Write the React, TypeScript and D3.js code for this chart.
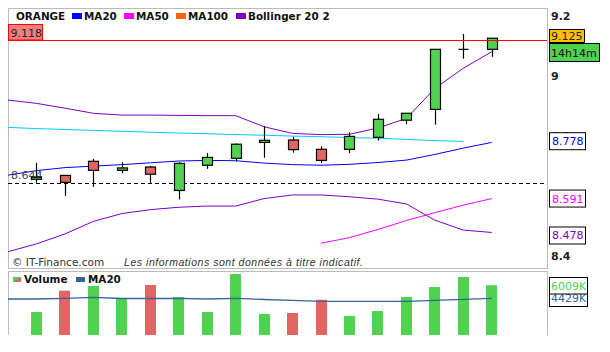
import React from "react";
import * as d3 from "d3";

// ---- data ----
const opens = [8.655, 8.668, 8.715, 8.685, 8.696, 8.618, 8.702, 8.725, 8.778, 8.786, 8.755, 8.755, 8.795, 8.852, 8.888, 9.088, 9.088];
const highs = [8.710, 8.668, 8.723, 8.712, 8.700, 8.712, 8.743, 8.775, 8.832, 8.797, 8.765, 8.812, 8.873, 8.875, 9.088, 9.139, 9.125];
const lows = [8.644, 8.600, 8.630, 8.675, 8.642, 8.588, 8.690, 8.715, 8.727, 8.744, 8.710, 8.742, 8.784, 8.839, 8.837, 9.057, 9.063];
const closes = [8.662, 8.645, 8.685, 8.693, 8.672, 8.708, 8.728, 8.772, 8.785, 8.754, 8.718, 8.798, 8.855, 8.875, 9.088, 9.088, 9.125];

// lines: first value at index -1 (left edge)
const ma20 = [8.669, 8.684, 8.694, 8.699, 8.704, 8.710, 8.716, 8.718, 8.717, 8.709, 8.704, 8.702, 8.705, 8.711, 8.719, 8.738, 8.759, 8.778];
const bollUpper = [8.919, 8.908, 8.892, 8.875, 8.869, 8.869, 8.868, 8.867, 8.867, 8.830, 8.808, 8.804, 8.805, 8.826, 8.858, 8.958, 9.025, 9.080];
const bollLower = [8.414, 8.440, 8.473, 8.515, 8.541, 8.554, 8.562, 8.566, 8.566, 8.591, 8.603, 8.603, 8.597, 8.589, 8.573, 8.519, 8.486, 8.478];
const ma100 = [8.828, 8.824, 8.821, 8.818, 8.815, 8.812, 8.809, 8.807, 8.804, 8.802, 8.799, 8.797, 8.794, 8.792, 8.788, 8.784, 8.781];
// MA50 starts at index 10
const ma50 = [8.442, 8.461, 8.488, 8.518, 8.544, 8.569, 8.591];
const ma50Start = 10;

const volumes = [2776, 5347, 5914, 4466, 6035, 4587, 2776, 7363, 2535, 2655, 4261, 2293, 2897, 4587, 5794, 7001, 6009];
const volMa20 = [4345, 4345, 4430, 4550, 4405, 4405, 4430, 4345, 4430, 4285, 4188, 4067, 4067, 4067, 4067, 4188, 4309, 4429];

const yTicks = [9.2, 9, 8.8, 8.6, 8.4];
const refLine = 9.118;
const dashedLine = 8.644;
const lastPrice = 9.125;
const timeLabel = "14h14m";

const GREEN = "#4FD24F";
const RED = "#E06666";
const PURPLE = "#7F00BF";
const BLUE = "#0000FF";
const MAGENTA = "#FF00FF";
const CYAN = "#00CCFF";
const VOLBLUE = "#336699";
const FONT = "DejaVu Sans, Verdana, sans-serif";
const LEG = 10.4;

export default function App() {
  const left = 8, right = 547;
  const x = d3.scaleLinear().domain([-1, 17.94]).range([left, right]);
  const y = d3.scaleLinear().domain([8.4, 9.2]).range([255.9, 15.7]);
  const yv = d3.scaleLinear().domain([0, 7500]).range([335, 335 - 7500 / 120.7]);

  const lineFrom = (vals: number[], start: number) =>
    d3.line<number>().x((_, i) => x(start + i)).y((v) => y(v))(vals) || "";
  const volLine = d3.line<number>().x((_, i) => x(i - 1)).y((v) => yv(v))(volMa20) || "";

  const bw = 10;
  const vbw = 11;

  const rightLabel = (v: number, text: string, color: string, fill = "#fff", stroke = "#000") => {
    const cy = y(v);
    return (
      <g key={text}>
        <rect x={549.5} y={cy - 8.5} width={36} height={17} fill={fill} stroke={stroke} />
        <text x={552} y={cy + 4} fontSize={11} fill={color} fontFamily={FONT}>{text}</text>
      </g>
    );
  };

  return (
    <svg width={610} height={352} style={{ position: "absolute", left: 0, top: 0 }}>
      <rect width={610} height={352} fill="#fff" />
      {/* main frame */}
      <rect x={left + 0.5} y={8.5} width={right - left} height={260} fill="none" stroke="#BBBBBB" />
      {/* volume frame */}
      <path d={`M${left + 0.5},335 V271.5 H${right + 0.5} V335`} fill="none" stroke="#BBBBBB" />

      {/* y ticks */}
      {yTicks.map((t) => (
        <text key={t} x={551} y={y(t) + 4} fontSize={11} fontWeight="bold" fill="#222" fontFamily={FONT}>
          {d3.format("")(t)}
        </text>
      ))}

      {/* lines */}
      <path d={lineFrom(bollUpper, -1)} fill="none" stroke={PURPLE} strokeWidth={1} />
      <path d={lineFrom(bollLower, -1)} fill="none" stroke={PURPLE} strokeWidth={1} />
      <path d={lineFrom(ma100, -1)} fill="none" stroke={CYAN} strokeWidth={1} />
      <path d={lineFrom(ma20, -1)} fill="none" stroke={BLUE} strokeWidth={1} />
      <path d={lineFrom(ma50, ma50Start)} fill="none" stroke={MAGENTA} strokeWidth={1} />

      {/* dashed line */}
      <line x1={left} x2={right} y1={Math.round(y(dashedLine)) + 0.5} y2={Math.round(y(dashedLine)) + 0.5} stroke="#000" strokeDasharray="4,3" />
      <text x={11} y={y(dashedLine) - 4} fontSize={11} fill="#444" fontFamily={FONT}>{d3.format(".3f")(dashedLine)}</text>

      {/* candles */}
      {opens.map((o, i) => {
        const c = closes[i];
        const cx = Math.round(x(i)) + 0.5;
        const top = y(Math.max(o, c));
        const bot = y(Math.min(o, c));
        const doji = o === c;
        return (
          <g key={i}>
            <line x1={cx} x2={cx} y1={y(highs[i])} y2={y(lows[i])} stroke="#000" strokeWidth={1.2} />
            {doji ? (
              <line x1={cx - bw / 2} x2={cx + bw / 2} y1={top} y2={top} stroke="#000" strokeWidth={1.2} />
            ) : (
              <rect x={cx - bw / 2} y={top} width={bw} height={Math.max(bot - top, 2)} fill={c > o ? GREEN : RED} stroke="#000" strokeWidth={1.2} />
            )}
          </g>
        );
      })}

      {/* red reference line */}
      <line x1={left} x2={right} y1={Math.round(y(refLine)) + 0.5} y2={Math.round(y(refLine)) + 0.5} stroke="#FF0000" />
      <rect x={8.5} y={24.5} width={34} height={15.5} fill="#F08080" stroke="#FF0000" />
      <text x={10.5} y={36.5} fontSize={11} fill="#222" fontFamily={FONT}>{d3.format(".3f")(refLine)}</text>

      {/* right labels */}
      <rect x={549.5} y={29.5} width={35} height={13} fill="#FFC000" stroke="#000" />
      <text x={551} y={40} fontSize={11} fill="#222" fontFamily={FONT}>{d3.format(".3f")(lastPrice)}</text>
      <rect x={549.5} y={43.5} width={50} height={18} fill={GREEN} stroke="#000" />
      <text x={551} y={56.5} fontSize={11} fill="#111" fontFamily={FONT}>{timeLabel}</text>

      {rightLabel(ma20[ma20.length - 1] + 0.004, d3.format(".3f")(ma20[ma20.length - 1]), BLUE)}
      {rightLabel(ma50[ma50.length - 1], d3.format(".3f")(ma50[ma50.length - 1]), MAGENTA)}
      {rightLabel(bollLower[bollLower.length - 1] - 0.01, d3.format(".3f")(bollLower[bollLower.length - 1]), PURPLE)}

      {/* legend */}
      <text x={16} y={20} fontSize={LEG} fontWeight="bold" fill="#111" fontFamily={FONT}>ORANGE</text>
      {[
        { x: 72, c: BLUE, t: "MA20" },
        { x: 124, c: MAGENTA, t: "MA50" },
        { x: 176, c: "#FF6600", t: "MA100" },
        { x: 236, c: PURPLE, t: "Bollinger 20 2" },
      ].map((l) => (
        <g key={l.t}>
          <rect x={l.x} y={13} width={10} height={6} fill={l.c} />
          <text x={l.x + 12} y={20} fontSize={LEG} fontWeight="bold" fill="#111" fontFamily={FONT}>{l.t}</text>
        </g>
      ))}

      {/* footer */}
      <text x={12} y={266} fontSize={10.5} fill="#333" fontFamily={FONT}>© IT-Finance.com</text>
      <text x={124} y={266} fontSize={10.5} fontStyle="italic" fill="#333" fontFamily="Liberation Sans, Arial, sans-serif" textLength={239} lengthAdjust="spacing">Les informations sont données à titre indicatif.</text>

      {/* volume bars */}
      {volumes.map((v, i) => {
        const up = i === 0 || closes[i] >= closes[i - 1];
        const cx = x(i);
        return <rect key={i} x={Math.round(cx - vbw / 2)} y={yv(v)} width={vbw} height={335 - yv(v)} fill={up ? GREEN : RED} />;
      })}
      <path d={volLine} fill="none" stroke={VOLBLUE} strokeWidth={1.3} />

      {/* volume legend */}
      <path d="M13,277 H21 V282 H13 Z" fill={RED} />
      <path d="M13,277 H21 L13,282 Z" fill={GREEN} />
      <text x={24} y={283} fontSize={LEG} fontWeight="bold" fill="#111" fontFamily={FONT}>Volume</text>
      <rect x={76} y={277} width={9} height={5} fill={VOLBLUE} />
      <text x={88} y={283} fontSize={LEG} fontWeight="bold" fill="#111" fontFamily={FONT}>MA20</text>

      {/* volume labels */}
      <rect x={549.5} y={289.5} width={38} height={17} fill="#fff" stroke="#000" />
      <text x={551} y={302} fontSize={11} fill={VOLBLUE} fontFamily={FONT}>{`${volMa20[volMa20.length - 1]}K`}</text>
      <rect x={549.5} y={277.5} width={38} height={16.5} fill="#fff" stroke="#000" />
      <text x={551} y={289.5} fontSize={11} fill={GREEN} fontFamily={FONT}>{`${volumes[volumes.length - 1]}K`}</text>
    </svg>
  );
}
